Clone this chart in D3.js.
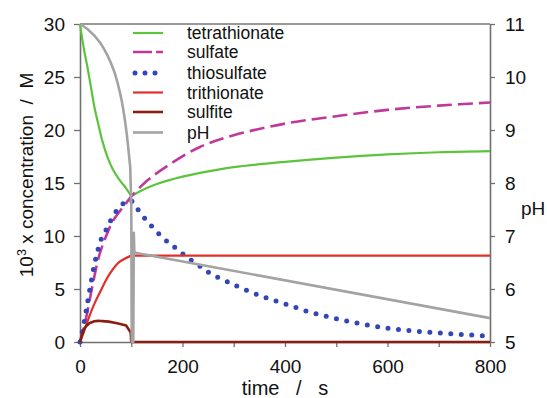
<!DOCTYPE html>
<html>
<head>
<meta charset="utf-8">
<script src="https://cdn.jsdelivr.net/npm/d3@7"></script>
<style>
  html, body { margin: 0; padding: 0; background: #fff; }
  svg text { font-family: "Liberation Sans", Arial, sans-serif; fill: #111; }
</style>
</head>
<body>
<svg id="chart" width="547" height="398"></svg>
<script>
// ---- data (time in s, concentration in 10^-3 M, pH) ----
const tetrathionate = [[0,30],[2,29.3],[8.5,27.4],[15,25.8],[21.5,24.0],[28,22.2],[34.5,20.8],[44,18.9],[54,17.4],[64,16.3],[77,15.3],[90,14.5],[100,13.75],
  [120,14.3],[150,14.9],[200,15.6],[250,16.1],[300,16.5],[400,17.0],[500,17.4],[600,17.7],[700,17.9],[800,18.0]];
const sulfate = [[0,0],[12,2.3],[24.7,5.4],[37.7,8.2],[51,10],[64,11.4],[77,12.3],[90,13.1],[100,13.75],
  [133,15.3],[170,16.6],[234,18.4],[300,19.5],[400,20.6],[500,21.3],[600,21.9],[700,22.3],[800,22.6]];
const thiosulfate = [[0,0],[8.5,1.95],[15,3.8],[21.5,5.6],[28,7.3],[34.5,8.6],[41,9.65],[51,10.6],[57,11.2],[70,12.3],[83,13.0],[99,13.4],
  [109,12.8],[117,12.2],[133,11.3],[150,10.4],[172,9.4],[191,8.7],[211,7.9],[230,7.3],[250,6.6],[300,5.4],[350,4.4],
  [400,3.6],[450,2.8],[500,2.2],[550,1.7],[600,1.3],[650,1.05],[700,0.85],[750,0.7],[800,0.55]];
const trithionate = [[0,0],[10,1.3],[18,2.4],[28,3.6],[38,4.6],[57,6.35],[77,7.55],[100,8.15],[800,8.15]];
const sulfite = [[0,0],[12,1.5],[28,1.95],[44,1.97],[70,1.8],[90,1.55],[99,0.9],[100,0],[800,0]];
const pH = [[0,11],[15,10.9],[39,10.65],[65,10.15],[81,9.57],[91,8.94],[98,8.3],[100,7.6],[101,5.0],[104,5.0],
  [105,7.06],[106,6.7],[110,6.68],[800,5.45]];
// where each curve has a corner (segments are smoothed separately)
const kinks = { tetrathionate:[100], sulfate:[100], thiosulfate:[99], trithionate:[100], sulfite:[90,99,100], pH:[98,100,101,104,105,106,110] };

const xTicks = [0,200,400,600,800];
const xMinorTicks = [100,300,500,700];
const yTicks = [0,5,10,15,20,25,30];
const pHTicks = [5,6,7,8,9,10,11];
const legendNames = ["tetrathionate","sulfate","thiosulfate","trithionate","sulfite","pH"];

// ---- layout ----
const svg = d3.select("#chart");
const L = 80, R = 490, T = 24, B = 342;
const x = d3.scaleLinear().domain([0,800]).range([L,R]);
const y = d3.scaleLinear().domain([0,30]).range([B,T]);
const yR = d3.scaleLinear().domain([5,11]).range([B,T]);

const styles = {
  tetrathionate: {color:"#5cc43c", width:2.2, dash:null, scale:y},
  sulfate:       {color:"#c0389a", width:2.6, dash:"15 6", scale:y},
  thiosulfate:   {color:"#3346b8", width:5, dash:"0 10.5", cap:"round", scale:y},
  trithionate:   {color:"#e0302a", width:2.2, dash:null, scale:y},
  sulfite:       {color:"#8a1c12", width:2.6, dash:null, scale:y},
  pH:            {color:"#a3a3a3", width:2.6, dash:null, scale:yR}
};
const seriesData = {tetrathionate, sulfate, thiosulfate, trithionate, sulfite, pH};

// axes
const fs = "19px";
svg.append("line").attr("x1",L).attr("x2",R).attr("y1",T).attr("y2",T).attr("stroke","#333").attr("stroke-width",1.2);

const gx = svg.append("g").attr("transform",`translate(0,${B})`)
  .call(d3.axisBottom(x).tickValues(xTicks).tickSize(5).tickPadding(13).tickSizeOuter(0));
const gxm = svg.append("g").attr("transform",`translate(0,${B})`)
  .call(d3.axisBottom(x).tickValues(xMinorTicks).tickSize(5).tickFormat("").tickSizeOuter(0));
gxm.select(".domain").remove();
const gy = svg.append("g").attr("transform",`translate(${L},0)`)
  .call(d3.axisLeft(y).tickValues(yTicks).tickSize(6).tickPadding(9).tickSizeOuter(0));
const gr = svg.append("g").attr("transform",`translate(${R},0)`)
  .call(d3.axisRight(yR).tickValues(pHTicks).tickFormat(d3.format("d")).tickSize(5).tickPadding(10).tickSizeOuter(0));
[gx,gxm,gy,gr].forEach(g => {
  g.selectAll(".domain").attr("stroke","#707070").attr("stroke-width",1.6);
  g.selectAll(".tick line").attr("stroke","#707070").attr("stroke-width",1.3);
  g.selectAll("text").attr("font-size",fs).attr("font-family","Liberation Sans, Arial, sans-serif").attr("fill","#111");
});

// series
function segments(data, ks){
  const segs = []; let cur = [];
  data.forEach(p => {
    cur.push(p);
    if (ks.includes(p[0])) { segs.push(cur); cur = [p]; }
  });
  if (cur.length > 1) segs.push(cur);
  return segs;
}
const order = ["tetrathionate","sulfate","thiosulfate","trithionate","sulfite","pH"];
order.forEach(name => {
  const st = styles[name];
  const line = d3.line().x(d => x(d[0])).y(d => st.scale(d[1])).curve(d3.curveCatmullRom.alpha(0.5));
  const segs = segments(seriesData[name], kinks[name]);
  let dstr = "";
  segs.forEach((s,i) => {
    let d = line(s);
    if (i>0) d = d.replace(/^M[^CL]*/, "");
    dstr += d;
  });
  svg.append("path").attr("d", dstr).attr("fill","none").attr("stroke",st.color)
    .attr("stroke-width",st.width).attr("stroke-dasharray",st.dash)
    .attr("stroke-linecap",st.cap || "butt").attr("stroke-linejoin","round");
});

// legend
const lg = svg.append("g");
legendNames.forEach((name,i) => {
  const st = styles[name];
  const yy = [33,52,73,92.5,112,132.5][i];
  lg.append("line").attr("x1", name==="thiosulfate"?135:133).attr("x2",163).attr("y1",yy).attr("y2",yy)
    .attr("stroke",st.color).attr("stroke-width",st.width)
    .attr("stroke-dasharray", name==="sulfate" ? "19 4" : (name==="thiosulfate" ? "0 10" : null))
    .attr("stroke-linecap", st.cap || "butt");
  lg.append("text").attr("x",187).attr("y",yy).attr("dy","0.35em").attr("font-size","17.5px").text(name);
});

// axis titles
svg.append("text").attr("x",(L+R)/2).attr("y",395).attr("text-anchor","middle")
  .attr("font-size","20px").attr("xml:space","preserve").text("time   /   s");
const yl = svg.append("text").attr("transform",`translate(33,175) rotate(-90)`)
  .attr("text-anchor","middle").attr("font-size","19px").attr("xml:space","preserve");
yl.append("tspan").text("10");
yl.append("tspan").attr("dy","-7").attr("font-size","12.5px").text("3");
yl.append("tspan").attr("dy","7").text(" x concentration  /  M");
svg.append("text").attr("x",521).attr("y",215).attr("font-size","19px").text("pH");
</script>
</body>
</html>
